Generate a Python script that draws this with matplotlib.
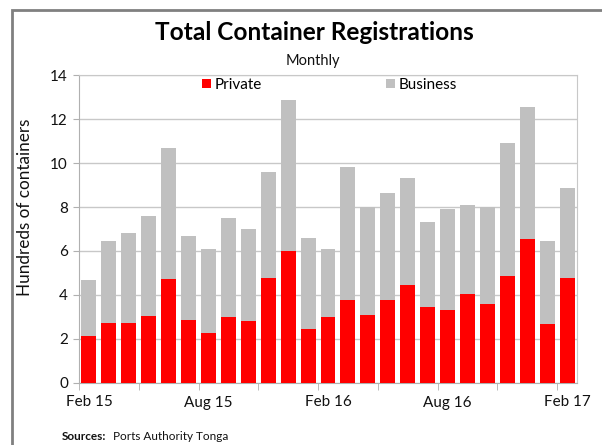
import matplotlib
matplotlib.use("Agg")
import matplotlib.pyplot as plt
from matplotlib.patches import Rectangle
import numpy as np

plt.rcParams['font.family'] = ['Lato', 'DejaVu Sans']

months = ["Feb 15", "Mar 15", "Apr 15", "May 15", "Jun 15", "Jul 15", "Aug 15",
          "Sep 15", "Oct 15", "Nov 15", "Dec 15", "Jan 16", "Feb 16", "Mar 16",
          "Apr 16", "May 16", "Jun 16", "Jul 16", "Aug 16", "Sep 16", "Oct 16",
          "Nov 16", "Dec 16", "Jan 17", "Feb 17"]
private = [2.12, 2.72, 2.72, 3.03, 4.72, 2.85, 2.28, 3.02, 2.82, 4.79, 6.01, 2.44,
           3.02, 3.76, 3.08, 3.76, 4.47, 3.46, 3.32, 4.03, 3.61, 4.88, 6.55, 2.67, 4.79]
total = [4.67, 6.46, 6.83, 7.61, 10.69, 6.67, 6.07, 7.52, 7.02, 9.60, 12.88, 6.58,
         6.10, 9.83, 7.99, 8.63, 9.31, 7.31, 7.90, 8.07, 8.02, 10.91, 12.56, 6.45, 8.87]
business = [t - p for t, p in zip(total, private)]
label_months = ["Feb 15", "Aug 15", "Feb 16", "Aug 16", "Feb 17"]

W, H = 602, 445
fig = plt.figure(figsize=(W / 100, H / 100), dpi=100)
ax = fig.add_axes([79 / W, (H - 383) / H, (577 - 79) / W, (383 - 75) / H])

x = np.arange(len(months))
ax.bar(x, private, width=0.75, color="#FF0000", label="Private", zorder=3)
ax.bar(x, business, bottom=private, width=0.75, color="#C0C0C0", label="Business", zorder=3)

ax.set_xlim(-0.5, len(months) - 0.5)
ax.set_ylim(0, 14)
ax.set_yticks(np.arange(0, 15, 2))
ax.yaxis.grid(True, color="#C8C8C8", linewidth=1, zorder=0)
ax.tick_params(axis="y", length=4, color="#B0B0B0", labelsize=11, pad=4, labelcolor="#111111")

label_idx = [months.index(m) for m in label_months]
ax.set_xticks(label_idx)
ax.set_xticklabels(label_months)
ax.set_xticks(np.arange(-0.5, len(months) - 0.5, 3), minor=True)
ax.tick_params(axis="x", which="major", length=0, labelsize=11, pad=9, labelcolor="#111111")
ax.tick_params(axis="x", which="minor", length=5, color="#B0B0B0")

for s in ["top", "right"]:
    ax.spines[s].set_color("#C8C8C8")
for s in ["left", "bottom"]:
    ax.spines[s].set_color("#B0B0B0")

ax.set_ylabel("Hundreds of containers", fontsize=12.3, color="#111111", va="center")
ax.yaxis.set_label_coords(-0.108, 0.571)

leg = ax.legend(loc="upper center", bbox_to_anchor=(0.503, 1.035), ncol=2, frameon=False,
                fontsize=11, handlelength=0.6, handleheight=0.6, handletextpad=0.25,
                columnspacing=8.1)

fig.text(314 / W, 1 - 33 / H, "Total Container Registrations", ha="center", va="center",
         fontsize=17.6, fontweight="bold", color="#000000")
fig.text(313 / W, 1 - 61 / H, "Monthly", ha="center", va="center", fontsize=10.5, color="#111111")

fig.text(62 / W, 1 - 437 / H, "Sources:", ha="left", va="center", fontsize=8.5,
         fontweight="bold", color="#111111")
fig.text(113 / W, 1 - 437 / H, "Ports Authority Tonga", ha="left", va="center", fontsize=8.5,
         color="#111111")

border = Rectangle((12 / W, -0.1), 1.2, 1 - 10 / H + 0.1, transform=fig.transFigure,
                   fill=False, edgecolor="#808080", linewidth=2, clip_on=False)
fig.patches.append(border)

fig.savefig("out.png", dpi=100)
